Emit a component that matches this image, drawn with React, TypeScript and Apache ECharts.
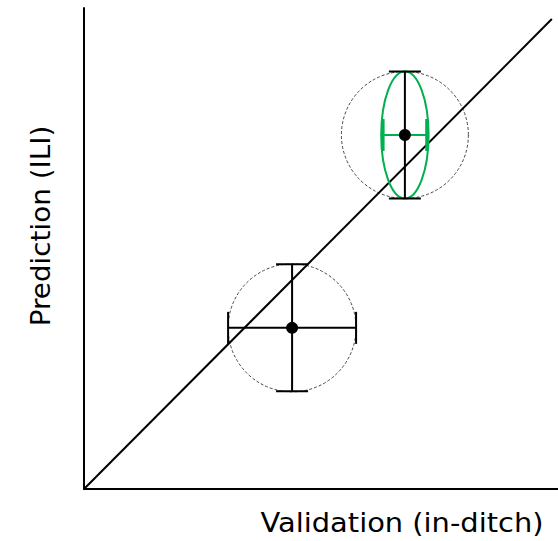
import React, { useEffect, useRef } from "react";
import * as echarts from "echarts";

// Measurement points (arbitrary units on both axes)
const pointX = [4.39, 6.77];
const pointY = [3.35, 7.36];
// Black error bars (half-lengths); 0 means no bar in that direction
const errX = [1.35, 0];
const errY = [1.32, 1.32];
// Green uncertainty for the second point: horizontal bar and ellipse
const greenX = [6.77];
const greenY = [7.36];
const greenErrX = [0.46];
const greenRx = [0.5];
const greenRy = [1.32];
// 1:1 reference line
const diagX = [0, 9.87];
const diagY = [0, 9.77];

const AXIS_MAX = 10;
const CAP = 16;
const GREEN = "#00b050";

export default function App() {
  const ref = useRef<HTMLDivElement>(null);

  useEffect(() => {
    if (!ref.current) return;
    const chart = echarts.init(ref.current, null, { renderer: "svg" });

    const pts = pointX.map((x, i) => [x, pointY[i], errX[i], errY[i]]);
    const greens = greenX.map((x, i) => [x, greenY[i], greenErrX[i], greenRx[i], greenRy[i]]);

    const plainAxis = {
      type: "value" as const,
      min: 0,
      max: AXIS_MAX,
      axisLine: { show: true, lineStyle: { color: "#000", width: 2 } },
      axisTick: { show: false },
      axisLabel: { show: false },
      splitLine: { show: false },
    };

    chart.setOption({
      animation: false,
      grid: { left: 84, top: 8, width: 474, height: 481 },
      xAxis: plainAxis,
      yAxis: plainAxis,
      graphic: [
        {
          type: "text",
          x: 402,
          y: 523,
          scaleX: 1.07,
          style: {
            text: "Validation (in-ditch)",
            fontFamily: "DejaVu Sans",
            fontSize: 27,
            fill: "#000",
            textAlign: "center",
            textVerticalAlign: "middle",
          },
        },
        {
          type: "text",
          x: 41,
          y: 226,
          rotation: Math.PI / 2,
          scaleX: 1.03,
          style: {
            text: "Prediction (ILI)",
            fontFamily: "DejaVu Sans",
            fontSize: 27,
            fill: "#000",
            textAlign: "center",
            textVerticalAlign: "middle",
          },
        },
      ],
      series: [
        {
          // dashed circles around each point
          type: "custom",
          data: pts,
          z: 1,
          renderItem: (_p: any, api: any) => {
            const c = api.coord([api.value(0), api.value(1)]);
            const s = api.size([api.value(2), api.value(3)]);
            const r = Math.max(s[0], s[1]);
            return {
              type: "circle",
              shape: { cx: c[0], cy: c[1], r },
              style: { fill: "none", stroke: "#444", lineWidth: 1, lineDash: [3, 2] },
            };
          },
        },
        {
          type: "line",
          data: diagX.map((x, i) => [x, diagY[i]]),
          symbol: "none",
          z: 2,
          lineStyle: { color: "#000", width: 2 },
        },
        {
          // green ellipse and horizontal bar
          type: "custom",
          data: greens,
          z: 3,
          renderItem: (_p: any, api: any) => {
            const c = api.coord([api.value(0), api.value(1)]);
            const e = api.size([api.value(2), 0])[0];
            const r = api.size([api.value(3), api.value(4)]);
            const st = { stroke: GREEN, lineWidth: 2, fill: "none" };
            return {
              type: "group",
              children: [
                { type: "ellipse", shape: { cx: c[0], cy: c[1], rx: r[0], ry: r[1] }, style: st },
                { type: "line", shape: { x1: c[0] - e, y1: c[1], x2: c[0] + e, y2: c[1] }, style: st },
                { type: "line", shape: { x1: c[0] - e, y1: c[1] - CAP, x2: c[0] - e, y2: c[1] + CAP }, style: { ...st, lineWidth: 3 } },
                { type: "line", shape: { x1: c[0] + e, y1: c[1] - CAP, x2: c[0] + e, y2: c[1] + CAP }, style: { ...st, lineWidth: 3 } },
              ],
            };
          },
        },
        {
          // black error bars with caps
          type: "custom",
          data: pts,
          z: 4,
          renderItem: (_p: any, api: any) => {
            const c = api.coord([api.value(0), api.value(1)]);
            const s = api.size([api.value(2), api.value(3)]);
            const st = { stroke: "#000", lineWidth: 2, fill: "none" };
            const children: any[] = [];
            if (api.value(2) > 0) {
              children.push(
                { type: "line", shape: { x1: c[0] - s[0], y1: c[1], x2: c[0] + s[0], y2: c[1] }, style: st },
                { type: "line", shape: { x1: c[0] - s[0], y1: c[1] - CAP, x2: c[0] - s[0], y2: c[1] + CAP }, style: st },
                { type: "line", shape: { x1: c[0] + s[0], y1: c[1] - CAP, x2: c[0] + s[0], y2: c[1] + CAP }, style: st }
              );
            }
            if (api.value(3) > 0) {
              children.push(
                { type: "line", shape: { x1: c[0], y1: c[1] - s[1], x2: c[0], y2: c[1] + s[1] }, style: st },
                { type: "line", shape: { x1: c[0] - CAP, y1: c[1] - s[1], x2: c[0] + CAP, y2: c[1] - s[1] }, style: st },
                { type: "line", shape: { x1: c[0] - CAP, y1: c[1] + s[1], x2: c[0] + CAP, y2: c[1] + s[1] }, style: st }
              );
            }
            return { type: "group", children };
          },
        },
        {
          type: "scatter",
          data: pointX.map((x, i) => [x, pointY[i]]),
          symbolSize: 12,
          z: 5,
          itemStyle: { color: "#000", opacity: 1 },
        },
      ],
    });

    return () => chart.dispose();
  }, []);

  return (
    <div
      ref={ref}
      style={{ position: "fixed", left: 0, top: 0, width: 558, height: 541, background: "#fff" }}
    />
  );
}
